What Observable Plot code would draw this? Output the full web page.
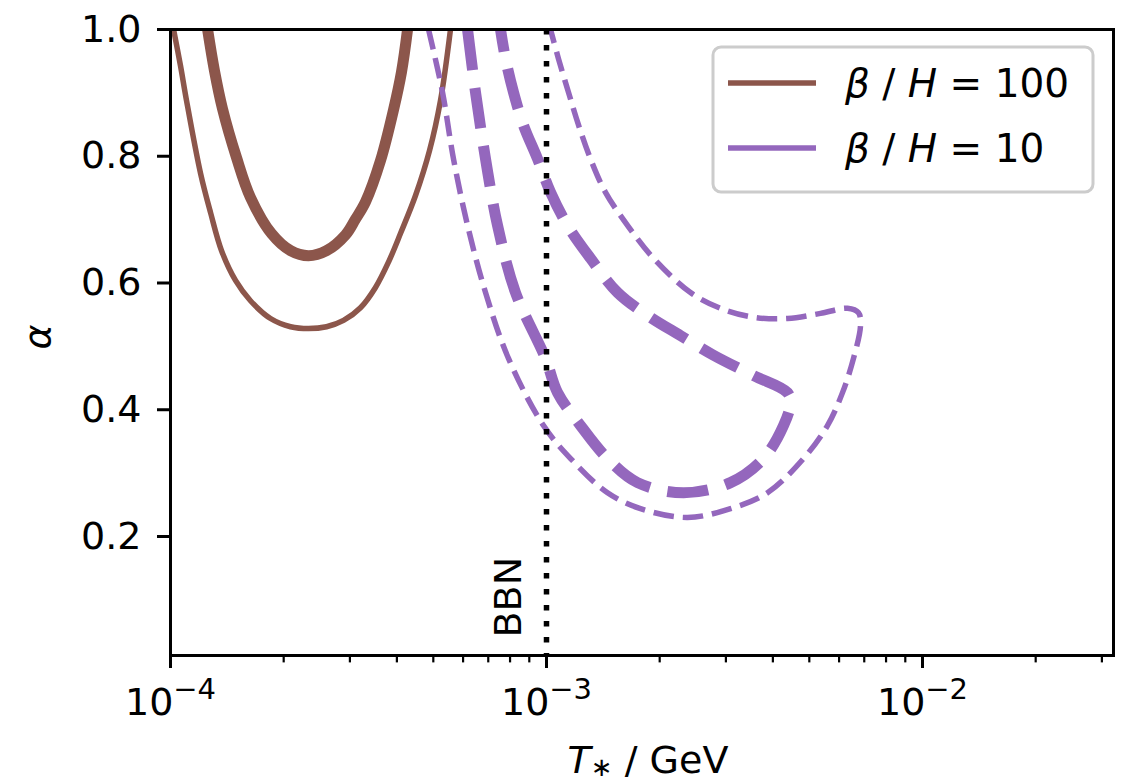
<!DOCTYPE html>
<html><head><meta charset="utf-8">
<script src="https://cdn.jsdelivr.net/npm/d3@7"></script>
<script src="https://cdn.jsdelivr.net/npm/@observablehq/plot@0.6"></script>
<style>html,body{margin:0;padding:0;background:#fff}svg{display:block}</style>
</head><body><div id="chart"></div>
<script>
// ---- data (T* in GeV, alpha) ----
const b100ThickT = [1.255e-4, 1.309e-4, 1.375e-4, 1.498e-4, 1.632e-4, 1.856e-4, 2.086e-4, 2.328e-4, 2.600e-4, 2.921e-4, 3.099e-4, 3.301e-4, 3.618e-4, 3.918e-4, 4.115e-4, 4.270e-4];
const b100ThickA = [1.000, 0.935, 0.875, 0.798, 0.735, 0.678, 0.651, 0.643, 0.651, 0.676, 0.700, 0.728, 0.793, 0.873, 0.933, 1.000];

const b100ThinT = [1.019e-4, 1.063e-4, 1.103e-4, 1.202e-4, 1.278e-4, 1.367e-4, 1.489e-4, 1.632e-4, 1.845e-4, 2.086e-4, 2.328e-4, 2.600e-4, 2.885e-4, 3.201e-4, 3.509e-4, 3.800e-4, 4.089e-4, 4.484e-4, 4.886e-4, 5.225e-4, 5.554e-4];
const b100ThinA = [1.000, 0.943, 0.888, 0.773, 0.711, 0.651, 0.604, 0.572, 0.544, 0.531, 0.528, 0.531, 0.541, 0.561, 0.593, 0.633, 0.678, 0.738, 0.809, 0.888, 1.000];

const b10ThickT = [6.166e-4, 6.474e-4, 6.884e-4, 7.408e-4, 8.270e-4, 9.939e-4, 1.070e-3, 1.232e-3, 1.453e-3, 1.746e-3, 2.314e-3, 3.086e-3, 3.777e-3, 4.270e-3, 4.456e-3, 4.375e-3, 3.552e-3, 2.781e-3, 2.272e-3, 1.856e-3, 1.545e-3, 1.309e-3, 1.137e-3, 1.025e-3, 9.464e-4, 8.685e-4, 8.170e-4, 7.779e-4, 7.545e-4];
const b10ThickA = [1.000, 0.901, 0.796, 0.691, 0.585, 0.481, 0.427, 0.375, 0.323, 0.285, 0.269, 0.285, 0.323, 0.375, 0.411, 0.427, 0.454, 0.486, 0.517, 0.549, 0.585, 0.639, 0.691, 0.743, 0.796, 0.849, 0.901, 0.954, 1.000];

const b10ThinT = [4.856e-4, 5.290e-4, 5.657e-4, 6.166e-4, 6.884e-4, 7.923e-4, 9.818e-4, 1.159e-3, 1.453e-3, 1.778e-3, 2.371e-3, 3.086e-3, 3.871e-3, 4.825e-3, 5.588e-3, 6.127e-3, 6.554e-3, 6.841e-3, 6.758e-3, 6.318e-3, 5.355e-3, 4.375e-3, 3.552e-3, 2.903e-3, 2.415e-3, 1.926e-3, 1.642e-3, 1.435e-3, 1.309e-3, 1.217e-3, 1.144e-3, 1.076e-3, 1.025e-3];
const b10ThinA = [1.000, 0.901, 0.796, 0.691, 0.585, 0.481, 0.375, 0.323, 0.269, 0.244, 0.230, 0.244, 0.269, 0.323, 0.375, 0.427, 0.481, 0.533, 0.553, 0.560, 0.552, 0.544, 0.546, 0.560, 0.585, 0.639, 0.691, 0.743, 0.796, 0.849, 0.901, 0.954, 1.000];

const betaOverH = [100, 10];
const bbnT = [1e-3];
const bbnLabel = ["BBN"];
const xMajorTicks = [1e-4, 1e-3, 1e-2];
const xMinorTicks = [2e-4, 3e-4, 4e-4, 5e-4, 6e-4, 7e-4, 8e-4, 9e-4, 2e-3, 3e-3, 4e-3, 5e-3, 6e-3, 7e-3, 8e-3, 9e-3, 2e-2, 3e-2];
const yTicks = [0.2, 0.4, 0.6, 0.8, 1.0];

// ---- styling ----
const BROWN = "#8c564b", PURPLE = "#9467bd";
const seriesColor = {100: BROWN, 10: PURPLE};
const FS = 38;

const curves = [
  {T: b100ThickT, A: b100ThickA, beta: 100, w: 11, dash: null},
  {T: b100ThinT,  A: b100ThinA,  beta: 100, w: 5.5, dash: null},
  {T: b10ThickT,  A: b10ThickA,  beta: 10,  w: 11, dash: "41,17.8"},
  {T: b10ThinT,   A: b10ThinA,   beta: 10,  w: 5.5, dash: "20.5,8.9"}
];

const lineMarks = curves.map(c => {
  const rows = c.T.map((t, i) => ({T: t, alpha: c.A[i]}));
  return Plot.line(rows, {
    x: "T", y: "alpha", stroke: seriesColor[c.beta], strokeWidth: c.w,
    strokeDasharray: c.dash || undefined, strokeLinecap: "butt", strokeLinejoin: "round",
    curve: "catmull-rom", clip: true
  });
});

const plot = Plot.plot({
  width: 1124, height: 782,
  marginTop: 29, marginRight: 11, marginBottom: 127, marginLeft: 170,
  style: {fontFamily: "DejaVu Sans", fontSize: FS + "px", color: "black", background: "white"},
  x: {type: "log", domain: [1e-4, 3.221e-2]},
  y: {domain: [0.0122, 1.0]},
  marks: [
    ...lineMarks,
    Plot.ruleX(bbnT, {x: d => d, stroke: "black", strokeWidth: 5.5, strokeDasharray: "5.5,10.5"}),
    Plot.text(bbnLabel, {x: bbnT[0], y: 0.0406, text: d => d, rotate: -90, textAnchor: "start", lineAnchor: "bottom", dx: -25, fontSize: FS, fill: "black"}),
    Plot.axisX(xMinorTicks, {tickSize: 7.4, strokeWidth: 2.2, tickFormat: () => "", label: null}),
    Plot.axisX(xMajorTicks, {tickSize: 13, strokeWidth: 3, tickPadding: 20, fontSize: FS,
      tickFormat: d => "10^" + Math.round(Math.log10(d)), label: null}),
    Plot.axisY(yTicks, {tickSize: 13, strokeWidth: 3, tickPadding: 16, fontSize: FS,
      tickFormat: d3.format(".1f"), label: null}),
    Plot.frame({stroke: "black", strokeWidth: 3})
  ]
});

const svg = d3.select(plot);
// superscript exponents on the x tick labels
svg.selectAll("text").each(function () {
  const s = this.textContent;
  if (!s.includes("^")) return;
  const [b, e] = s.split("^");
  const t = d3.select(this);
  t.text(null);
  t.append("tspan").text(b);
  t.append("tspan").attr("dy", "-16").style("font-size", "29px").text(e.replace("-", "\u2212"));
});

// axis titles
const xl = svg.append("text").attr("x", 648).attr("y", 773).attr("text-anchor", "middle")
  .style("font-size", FS + "px").attr("fill", "black");
xl.append("tspan").attr("font-style", "italic").text("T");
xl.append("tspan").style("font-size", "26px").attr("dy", 3).text("\u2217");
xl.append("tspan").attr("dy", -3).text(" / GeV");

svg.append("text").attr("transform", "translate(50,337) rotate(-90)").attr("text-anchor", "middle")
  .style("font-size", FS + "px").attr("font-style", "italic").attr("fill", "black").text("\u03b1");

// legend
const lg = svg.append("g");
lg.append("rect").attr("x", 713).attr("y", 47).attr("width", 380).attr("height", 145).attr("rx", 8)
  .attr("fill", "white").attr("fill-opacity", 0.8).attr("stroke", "#cccccc").attr("stroke-width", 3);
betaOverH.forEach((v, i) => {
  const cy = 83 + i * 65;
  lg.append("line").attr("x1", 728).attr("x2", 816).attr("y1", cy).attr("y2", cy)
    .attr("stroke", seriesColor[v]).attr("stroke-width", 5.5);
  const t = lg.append("text").attr("x", 845).attr("y", cy + 14).attr("text-anchor", "start")
    .style("font-size", "39px").attr("fill", "black");
  t.append("tspan").attr("font-style", "italic").text("\u03b2");
  t.append("tspan").text(" / ");
  t.append("tspan").attr("font-style", "italic").text("H");
  t.append("tspan").text(" = " + v);
});

document.getElementById("chart").append(plot);
</script>
</body></html>
